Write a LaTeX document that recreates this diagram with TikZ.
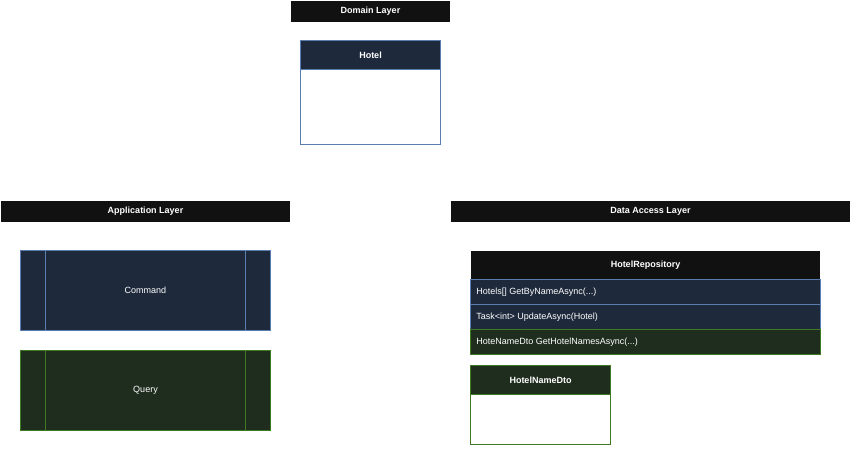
\documentclass[tikz,border=0pt]{standalone}
\usepackage{fontspec}
\setmainfont{Liberation Sans}
\usetikzlibrary{positioning}
\definecolor{barfill}{HTML}{111111}
\definecolor{navyfill}{HTML}{1E293B}
\definecolor{navyline}{HTML}{5A7DB0}
\definecolor{greenfill}{HTML}{1F2D1E}
\definecolor{greenline}{HTML}{3F7A22}
\tikzset{
  layer/.style = {fill=barfill, draw=none, text=white, font=\fontsize{9}{11}\selectfont\bfseries, inner sep=0pt},
  boxnavy/.style = {fill=navyfill, draw=navyline, text=white},
  boxgreen/.style = {fill=greenfill, draw=greenline, text=white},
  txt/.style = {text=white, font=\fontsize{9}{11}\selectfont, inner sep=0pt}
}
\begin{document}
\begin{tikzpicture}[x=1pt, y=-1pt, line width=0.75pt]
  \useasboundingbox (0,0) rectangle (851,466);
  % layer headers
  \fill[barfill] (291,1) rectangle (450,22);
  \node[layer] (domain) at (370.5,11.5) {Domain Layer};
  \fill[barfill] (1,201) rectangle (290,222);
  \node[layer] (app) at (145.5,211.5) {Application Layer};
  \fill[barfill] (451,201) rectangle (850,222);
  \node[layer] (dal) at (650.5,211.5) {Data Access Layer};
  % Hotel
  \filldraw[boxnavy] (300.5,40.5) rectangle (440.5,69.5);
  \draw[navyline] (300.5,69.5) rectangle (440.5,144.5);
  \node[txt, font=\fontsize{9}{11}\selectfont\bfseries] (hotel) at (370.5,55) {Hotel};
  % Command and Query
  \filldraw[boxnavy] (20.5,250.5) rectangle (270.5,330.5);
  \draw[navyline] (45.5,250.5) -- (45.5,330.5) (245.5,250.5) -- (245.5,330.5);
  \node[txt] (command) at (145.5,290.5) {Command};
  \filldraw[boxgreen] (20.5,350.5) rectangle (270.5,430.5);
  \draw[greenline] (45.5,350.5) -- (45.5,430.5) (245.5,350.5) -- (245.5,430.5);
  \node[txt] (query) at (145.5,390.5) {Query};
  % HotelRepository
  \fill[barfill] (471,251) rectangle (820,279);
  \node[txt, font=\fontsize{9}{11}\selectfont\bfseries] (repo) at (645.5,265) {HotelRepository};
  \filldraw[boxnavy] (470.5,279.5) rectangle (820.5,304.5);
  \node[txt, anchor=west] (getbyname) at (476,292) {Hotels[] GetByNameAsync(...)};
  \filldraw[boxnavy] (470.5,304.5) rectangle (820.5,329.5);
  \node[txt, anchor=west] (update) at (476,317) {Task<int> UpdateAsync(Hotel)};
  \filldraw[boxgreen] (470.5,329.5) rectangle (820.5,354.5);
  \node[txt, anchor=west] (getnames) at (476,342) {HoteNameDto GetHotelNamesAsync(...)};
  % HotelNameDto
  \filldraw[boxgreen] (470.5,365.5) rectangle (610.5,394.5);
  \draw[greenline] (470.5,394.5) rectangle (610.5,444.5);
  \node[txt, font=\fontsize{9}{11}\selectfont\bfseries] (dto) at (540.5,380) {HotelNameDto};
\end{tikzpicture}
\end{document}
